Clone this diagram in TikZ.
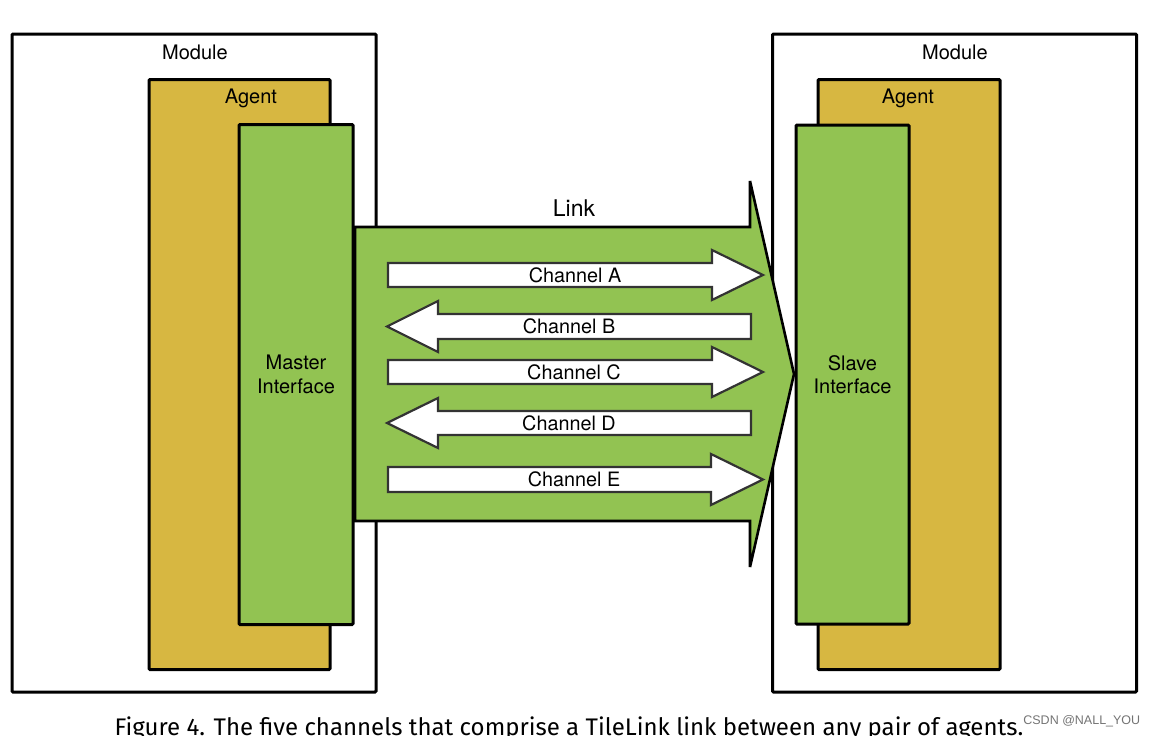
\documentclass[tikz,border=0pt]{standalone}
\usepackage{fontspec}
\setmainfont{TeX Gyre Heros}
\newfontfamily\capfont{Fira Sans}
\newfontfamily\wmfont{Liberation Sans}
\usetikzlibrary{positioning}

\definecolor{agentgold}{RGB}{215,183,65}
\definecolor{ifacegreen}{RGB}{146,195,82}
\definecolor{chanline}{RGB}{51,51,51}

\tikzset{every picture/.style={line width=0.75pt}}
\tikzset{
  modulebox/.style={draw=black, fill=white, line width=3pt, rounded corners=1pt, inner sep=0pt},
  agentbox/.style={draw=black, fill=agentgold, line width=3pt, rounded corners=1pt, inner sep=0pt},
  ifacebox/.style={draw=black, fill=ifacegreen, line width=3pt, rounded corners=1pt, inner sep=0pt, align=center, font=\fontsize{20}{23.5}\selectfont},
  boxlabel/.style={font=\fontsize{20}{24}\selectfont, inner sep=0pt},
  chanarrow/.style={draw=chanline, fill=white, line width=2.2pt, line join=miter, miter limit=3},
  chanlabel/.style={font=\fontsize{19.8}{23}\selectfont, inner sep=0pt}
}

\begin{document}
\begin{tikzpicture}[x=1pt,y=1pt,yscale=-1,xscale=1]
\useasboundingbox (0,0) rectangle (1152,736);
\clip (0,0) rectangle (1152,736);

%Modules
\node[modulebox, minimum width=364, minimum height=658] (modL) at (194,363) {};
\node[modulebox, minimum width=364, minimum height=658] (modR) at (954.5,363) {};
\node[boxlabel] (modLlbl) at (195,52) {Module};
\node[boxlabel] (modRlbl) at (955,52) {Module};

%Agents
\node[agentbox, minimum width=181, minimum height=590] (agtL) at (239.5,374.5) {};
\node[agentbox, minimum width=182, minimum height=590] (agtR) at (909,374.5) {};
\node[boxlabel] (agtLlbl) at (251,98) {Agent};
\node[boxlabel] (agtRlbl) at (908,98) {Agent};

%Interfaces
\node[ifacebox, minimum width=114, minimum height=500] (master) at (296,374.5) {Master\\Interface};
\node[ifacebox, minimum width=113, minimum height=499] (slave) at (852.5,374.5) {Slave\\Interface};

%Link arrow
\draw [fill=ifacegreen, line width=2.6pt, line join=miter, miter limit=1.5]
  (355,227) -- (750,227) -- (750,181) -- (794,374) -- (750,567) -- (750,521) -- (355,521) -- cycle ;
\node[font=\fontsize{23}{27}\selectfont, inner sep=0pt] (link) at (574,208) {Link};

%Right Arrow [Channel A]
\draw [chanarrow] (388,263) -- (712,263) -- (712,250) -- (763,275) -- (712,300) -- (712,287) -- (388,287) -- cycle ;
\node[chanlabel] (chA) at (575,275) {Channel A};
%Left Arrow [Channel B]
\draw [chanarrow] (751,314) -- (438,314) -- (438,301) -- (387,326.5) -- (438,352) -- (438,339) -- (751,339) -- cycle ;
\node[chanlabel] (chB) at (569,326.5) {Channel B};
%Right Arrow [Channel C]
\draw [chanarrow] (388,360) -- (712,360) -- (712,347) -- (763,372) -- (712,397) -- (712,384) -- (388,384) -- cycle ;
\node[chanlabel] (chC) at (574,372) {Channel C};
%Left Arrow [Channel D]
\draw [chanarrow] (751,411) -- (438,411) -- (438,398) -- (387,423) -- (438,448) -- (438,435) -- (751,435) -- cycle ;
\node[chanlabel] (chD) at (569,423) {Channel D};
%Right Arrow [Channel E]
\draw [chanarrow] (388,467) -- (711,467) -- (711,454) -- (763,479.5) -- (711,505) -- (711,492) -- (388,492) -- cycle ;
\node[chanlabel] (chE) at (574,479.5) {Channel E};

%Caption
\node[anchor=base, inner sep=0pt, font=\capfont\fontsize{24}{28}\selectfont] (caption) at (569,735) {Figure 4. The five channels that comprise a TileLink link between any pair of agents.};
\node[anchor=base west, inner sep=0pt, text=black!55, font=\wmfont\fontsize{12.5}{14}\selectfont] (wm) at (1023,724) {CSDN @NALL\_YOU};

\end{tikzpicture}
\end{document}
